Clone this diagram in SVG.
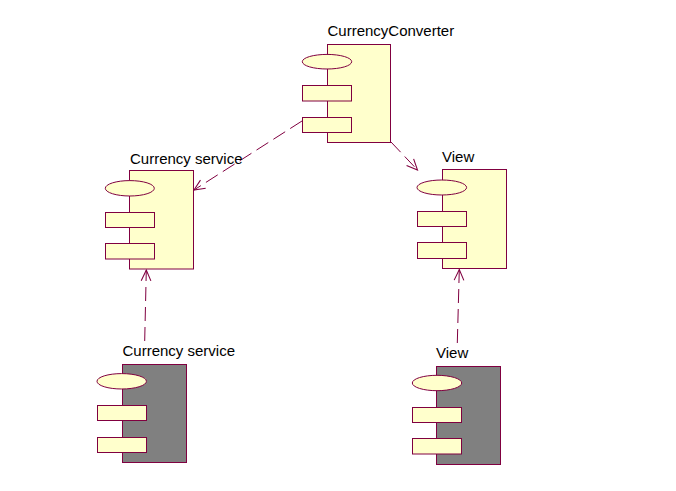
<svg xmlns="http://www.w3.org/2000/svg" width="676" height="491" viewBox="0 0 676 491">
<style>
.body{stroke:#800040;stroke-width:1;}
.light{fill:#FFFFCC;}
.dark{fill:#808080;}
.part{fill:#FFFFCC;stroke:#800040;stroke-width:1;}
.lbl{font-family:"Liberation Sans",Arial,sans-serif;font-size:15px;fill:#000000;}
.dep{fill:none;stroke:#800040;stroke-width:1;stroke-dasharray:14,6;}
</style>
<defs>
<marker id="open" markerUnits="userSpaceOnUse" markerWidth="14" markerHeight="14" viewBox="-1 -6 13 12" refX="10" refY="0" orient="auto">
<path d="M0,-4.5 L10,0 L0,4.5" fill="none" stroke="#800040" stroke-width="1"/>
</marker>
</defs>
<rect width="676" height="491" fill="#FFFFFF"/>
<g id="connectors">
<line class="dep" x1="302" y1="121" x2="194" y2="190" marker-end="url(#open)"/>
<line class="dep" x1="391" y1="142" x2="417.5" y2="170" marker-end="url(#open)"/>
<line class="dep" x1="144.7" y1="341" x2="146.3" y2="270" marker-end="url(#open)"/>
<line class="dep" x1="457.3" y1="343" x2="459.3" y2="269.5" marker-end="url(#open)"/>
</g>
<g id="CurrencyConverter">
<text class="lbl" x="327.5" y="36">CurrencyConverter</text>
<rect class="body light" x="327.5" y="44.5" width="63" height="98"/>
<ellipse class="part" cx="327" cy="61.7" rx="24.7" ry="7.3"/>
<rect class="part" x="302.5" y="85.5" width="49" height="15.5"/>
<rect class="part" x="302.5" y="117.5" width="49" height="15"/>
</g>
<g id="CurrencyService">
<text class="lbl" x="130" y="163.5">Currency service</text>
<rect class="body light" x="129.5" y="170.5" width="64" height="98.5"/>
<ellipse class="part" cx="129.8" cy="188.3" rx="24.5" ry="7.7"/>
<rect class="part" x="105.5" y="212.5" width="49" height="15"/>
<rect class="part" x="105.5" y="243.5" width="49" height="15.5"/>
</g>
<g id="View">
<text class="lbl" x="442" y="162">View</text>
<rect class="body light" x="442.5" y="169.5" width="64" height="99"/>
<ellipse class="part" cx="441.8" cy="187.5" rx="24.8" ry="7.5"/>
<rect class="part" x="417.5" y="211.5" width="49" height="15"/>
<rect class="part" x="417.5" y="242.5" width="49" height="16"/>
</g>
<g id="CurrencyServiceImpl">
<text class="lbl" x="122.5" y="356">Currency service</text>
<rect class="body dark" x="122.5" y="364.5" width="64" height="98"/>
<ellipse class="part" cx="121.7" cy="381.3" rx="24.7" ry="7.7"/>
<rect class="part" x="97.5" y="405.5" width="49" height="15"/>
<rect class="part" x="97.5" y="437.5" width="49" height="15"/>
</g>
<g id="ViewImpl">
<text class="lbl" x="436" y="357.5">View</text>
<rect class="body dark" x="436.5" y="366.5" width="64" height="98"/>
<ellipse class="part" cx="437" cy="383" rx="24.7" ry="7.7"/>
<rect class="part" x="412.5" y="407.5" width="49" height="15"/>
<rect class="part" x="412.5" y="438.5" width="49" height="15.5"/>
</g>
</svg>
